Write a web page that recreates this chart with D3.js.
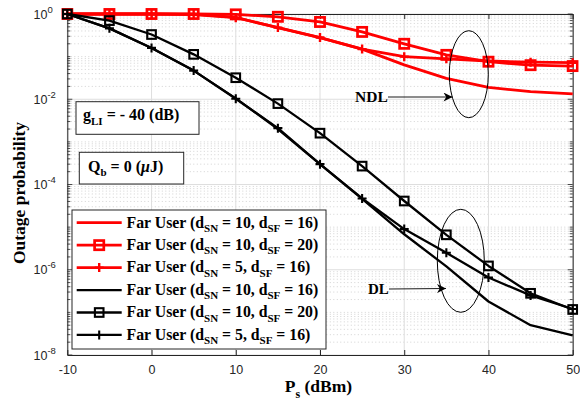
<!DOCTYPE html>
<html><head><meta charset="utf-8">
<script src="https://cdn.jsdelivr.net/npm/d3@7"></script>
<style>body{margin:0;background:#fff}svg{display:block}</style>
</head><body>
<svg id="c" width="580" height="407"></svg>
<script>
const xValues = [-10,-5,0,5,10,15,20,25,30,35,40,45,50];
const redSolid  = [1,1,1,0.99,0.83,0.48,0.28,0.15,0.064,0.031,0.019,0.0151,0.0133];
const redSquare = [1,1,1,1,0.98,0.86,0.65,0.38,0.2,0.11,0.076,0.063,0.06];
const redPlus   = [1,1,1,0.97,0.82,0.48,0.28,0.15,0.1,0.089,0.079,0.074,0.072];
const blkSolid  = [1,0.46,0.16,0.047,0.0105,0.002,3.0e-4,4.6e-5,6.8e-6,1.2e-6,1.8e-7,5e-8,2.9e-8];
const blkSquare = [1,0.7,0.33,0.113,0.032,0.0079,0.0016,2.7e-4,4.1e-5,6.6e-6,1.23e-6,2.8e-7,1.17e-7];
const blkPlus   = [1,0.46,0.16,0.047,0.0103,0.0021,3.0e-4,4.7e-5,9.0e-6,2.5e-6,6.6e-7,2.5e-7,1.2e-7];
const xTicks = [-10,0,10,20,30,40,50];
const yTickExps = [0,-2,-4,-6,-8];
const legendLabels = [
  {sn:"10", sf:"16"},{sn:"10", sf:"20"},{sn:"5", sf:"16"},
  {sn:"10", sf:"16"},{sn:"10", sf:"20"},{sn:"5", sf:"16"}
];

const series = [
  {v:redSolid, color:"#ff0000", marker:null, w:2.8},
  {v:redSquare, color:"#ff0000", marker:"square", w:2.8},
  {v:redPlus, color:"#ff0000", marker:"plus", w:2.8},
  {v:blkSolid, color:"#000000", marker:null, w:2.3},
  {v:blkSquare, color:"#000000", marker:"square", w:2.3},
  {v:blkPlus, color:"#000000", marker:"plus", w:2.3}
];

const L=67.3, R=572.7, T=14, B=355;
const x = d3.scaleLinear().domain([-10,50]).range([L,R]);
const y = d3.scaleLog().domain([1e-8,1]).range([B,T]);
const svg = d3.select("#c");
const serif = "'Liberation Serif','Times New Roman',serif";
const sans = "'Liberation Sans',Arial,sans-serif";

// grid
const gGrid = svg.append("g");
const minorVals = [];
for (let e=-8;e<0;e++) for (let m=1;m<10;m++){ const v=m*Math.pow(10,e); if(!(m===1 && e%2===0)) minorVals.push(v); }
gGrid.selectAll(".mn").data(minorVals).enter().append("line")
  .attr("x1",L).attr("x2",R).attr("y1",d=>y(d)).attr("y2",d=>y(d))
  .attr("stroke","#c8c8c8").attr("stroke-width",0.8).attr("stroke-dasharray","1,2.5");
gGrid.selectAll(".mj").data(yTickExps).enter().append("line")
  .attr("x1",L).attr("x2",R).attr("y1",d=>y(Math.pow(10,d))).attr("y2",d=>y(Math.pow(10,d)))
  .attr("stroke","#dedede").attr("stroke-width",1);
gGrid.selectAll(".vx").data(xTicks).enter().append("line")
  .attr("y1",T).attr("y2",B).attr("x1",d=>x(d)).attr("x2",d=>x(d))
  .attr("stroke","#dedede").attr("stroke-width",1);

// axes (MATLAB style inward ticks)
const axColor="#262626";
const ax = svg.append("g");
ax.append("g").attr("transform",`translate(0,${B})`)
  .call(d3.axisBottom(x).tickValues(xTicks).tickSizeInner(-5).tickSizeOuter(0).tickFormat(d=>d))
  .call(g=>{g.select(".domain").attr("stroke",axColor);g.selectAll(".tick line").attr("stroke",axColor);
    g.selectAll("text").attr("font-family",sans).attr("font-size",12.5).attr("fill","#262626").attr("dy","1.3em");});
ax.append("g").attr("transform",`translate(0,${T})`)
  .call(d3.axisTop(x).tickValues(xTicks).tickSizeInner(-5).tickSizeOuter(0).tickFormat(""))
  .call(g=>{g.select(".domain").attr("stroke",axColor);g.selectAll(".tick line").attr("stroke",axColor);});
const allY = minorVals.concat(yTickExps.map(e=>Math.pow(10,e)));
const yl = ax.append("g").attr("transform",`translate(${L},0)`)
  .call(d3.axisLeft(y).tickValues(allY).tickSizeInner(0).tickSizeOuter(0).tickFormat(""));
yl.select(".domain").attr("stroke",axColor);
const yr = ax.append("g").attr("transform",`translate(${R},0)`)
  .call(d3.axisRight(y).tickValues(allY).tickSizeInner(0).tickSizeOuter(0).tickFormat(""));
yr.select(".domain").attr("stroke",axColor);
const isMajor = v => yTickExps.some(e=>Math.abs(Math.log10(v)-e)<1e-9);
ax.selectAll(".ytl").data(allY).enter().append("line")
  .attr("x1",L).attr("x2",d=>L+(isMajor(d)?5:3)).attr("y1",d=>y(d)).attr("y2",d=>y(d))
  .attr("stroke",axColor).attr("stroke-width",0.8);
ax.selectAll(".ytr").data(allY).enter().append("line")
  .attr("x1",R).attr("x2",d=>R-(isMajor(d)?5:3)).attr("y1",d=>y(d)).attr("y2",d=>y(d))
  .attr("stroke",axColor).attr("stroke-width",0.8);
const ytxt = ax.selectAll(".ylab").data(yTickExps).enter().append("text")
  .attr("x",33.5).attr("y",d=>y(Math.pow(10,d))+4.5)
  .attr("font-family",sans).attr("font-size",12.5).attr("fill","#262626");
ytxt.append("tspan").text("10");
ytxt.append("tspan").attr("dy",-6).attr("font-size",9.5).text(d=>d===0?"0":"-"+Math.abs(d));

// series
svg.append("clipPath").attr("id","pc").append("rect").attr("x",L-6).attr("y",T-6).attr("width",R-L+12).attr("height",B-T+12);
const gS = svg.append("g").attr("clip-path","url(#pc)");
const line = d3.line().x((d,i)=>x(xValues[i])).y(d=>y(d));
function drawMarker(g, type, cx, cy, color){
  const red = color!=="#000000";
  if(type==="square"){
    const h = red?4.6:4.3;
    g.append("rect").attr("x",cx-h).attr("y",cy-h).attr("width",2*h).attr("height",2*h)
      .attr("fill","none").attr("stroke",color).attr("stroke-width",red?2.7:2.1);
  } else if(type==="plus"){
    g.append("path").attr("d",`M${cx-4.5},${cy}H${cx+4.5}M${cx},${cy-4.5}V${cy+4.5}`)
      .attr("stroke",color).attr("stroke-width",red?2.4:2.1);
  }
}
series.forEach(s=>{
  gS.append("path").datum(s.v).attr("d",line).attr("fill","none")
    .attr("stroke",s.color).attr("stroke-width",s.w).attr("stroke-linejoin","round");
  if(s.marker) s.v.forEach((v,i)=>drawMarker(gS,s.marker,x(xValues[i]),y(v),s.color));
});

// legend
const lg = svg.append("g");
lg.append("rect").attr("x",72).attr("y",210).attr("width",254).attr("height",139)
  .attr("fill","#fff").attr("stroke","#262626").attr("stroke-width",1);
series.forEach((s,i)=>{
  const ly = 222.7 + i*22.45;
  lg.append("line").attr("x1",76.7).attr("x2",121.7).attr("y1",ly).attr("y2",ly)
    .attr("stroke",s.color).attr("stroke-width",s.w);
  if(s.marker) drawMarker(lg,s.marker,99.2,ly,s.color);
  const t = lg.append("text").attr("x",126.5).attr("y",ly+4.8)
    .attr("font-family",serif).attr("font-weight","bold").attr("font-size",15.8).attr("fill","#000");
  const lab = legendLabels[i];
  t.append("tspan").text("Far User (d");
  t.append("tspan").attr("dy",4.5).attr("font-size",11).text("SN");
  t.append("tspan").attr("dy",-4.5).text(" = "+lab.sn+", d");
  t.append("tspan").attr("dy",4.5).attr("font-size",11).text("SF");
  t.append("tspan").attr("dy",-4.5).text(" = "+lab.sf+")");
});

// annotation boxes
const an = svg.append("g");
an.append("rect").attr("x",76).attr("y",101.7).attr("width",123).attr("height",32.6)
  .attr("fill","#fff").attr("stroke","#262626").attr("stroke-width",1);
const t1 = an.append("text").attr("x",83).attr("y",120).attr("font-family",serif).attr("font-weight","bold").attr("font-size",16);
t1.append("tspan").text("g");
t1.append("tspan").attr("dy",4.5).attr("font-size",11).text("LI");
t1.append("tspan").attr("dy",-4.5).text(" = - 40 (dB)");
an.append("rect").attr("x",79.3).attr("y",152.3).attr("width",104.4).attr("height",31.7)
  .attr("fill","#fff").attr("stroke","#262626").attr("stroke-width",1);
const t2 = an.append("text").attr("x",88).attr("y",171.5).attr("font-family",serif).attr("font-weight","bold").attr("font-size",16);
t2.append("tspan").text("Q");
t2.append("tspan").attr("dy",4.5).attr("font-size",11).text("b");
t2.append("tspan").attr("dy",-4.5).text(" = 0 (");
t2.append("tspan").attr("font-style","italic").text("\u03BC");
t2.append("tspan").text("J)");

// ellipses + arrows
svg.append("defs").append("marker").attr("id","ah").attr("viewBox","0 0 10 10").attr("refX",10).attr("refY",5)
  .attr("markerWidth",12).attr("markerHeight",9).attr("markerUnits","userSpaceOnUse").attr("orient","auto")
  .append("path").attr("d","M0,0 L10,5 L0,10 L3,5 Z").attr("fill","#000");
an.append("ellipse").attr("cx",468.8).attr("cy",74.2).attr("rx",19.5).attr("ry",43.5)
  .attr("fill","none").attr("stroke","#000").attr("stroke-width",1);
an.append("ellipse").attr("cx",460.8).attr("cy",260.8).attr("rx",23.5).attr("ry",51.5)
  .attr("fill","none").attr("stroke","#000").attr("stroke-width",1);
an.append("text").attr("x",355).attr("y",102).attr("font-family",serif).attr("font-weight","bold").attr("font-size",15.5).text("NDL");
an.append("line").attr("x1",388).attr("y1",97).attr("x2",452.5).attr("y2",97).attr("stroke","#000").attr("stroke-width",0.9).attr("marker-end","url(#ah)");
an.append("text").attr("x",368).attr("y",294).attr("font-family",serif).attr("font-weight","bold").attr("font-size",15).text("DL");
an.append("line").attr("x1",389).attr("y1",289).attr("x2",446).attr("y2",288.5).attr("stroke","#000").attr("stroke-width",0.9).attr("marker-end","url(#ah)");

// axis labels
const xl = svg.append("text").attr("x",318.5).attr("y",392).attr("text-anchor","middle")
  .attr("font-family",serif).attr("font-weight","bold").attr("font-size",17.5);
xl.append("tspan").text("P");
xl.append("tspan").attr("dy",5.5).attr("font-size",12).text("s");
xl.append("tspan").attr("dy",-5.5).text(" (dBm)");
svg.append("text").attr("transform","translate(24.5,193) rotate(-90)").attr("text-anchor","middle")
  .attr("font-family",serif).attr("font-weight","bold").attr("font-size",17.5).text("Outage probability");
</script>
</body></html>
